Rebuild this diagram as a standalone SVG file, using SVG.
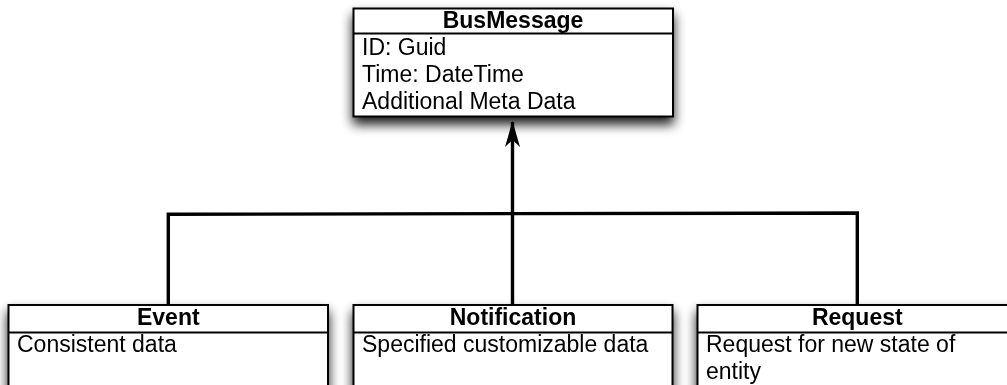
<svg xmlns="http://www.w3.org/2000/svg" width="1007" height="385" viewBox="0 0 1007 385">
  <defs>
    <!-- soft drop shadow under each class box -->
    <filter id="shadow" x="-10%" y="-25%" width="120%" height="170%">
      <feGaussianBlur in="SourceAlpha" stdDeviation="6"/>
      <feOffset dx="0" dy="7" result="blur"/>
      <feComponentTransfer>
        <feFuncA type="linear" slope="0.9"/>
      </feComponentTransfer>
      <feMerge>
        <feMergeNode/>
        <feMergeNode in="SourceGraphic"/>
      </feMerge>
    </filter>
    <!-- filled, notched generalisation arrowhead -->
    <marker id="head" markerUnits="userSpaceOnUse" viewBox="0 0 26 16" refX="25" refY="8" markerWidth="26" markerHeight="16" orient="auto">
      <path d="M26,8 L0,0.5 L7,8 L0,15.5 Z" fill="#000"/>
    </marker>
  </defs>
  <style>
    .box { fill: #fff; stroke: #000; stroke-width: 2; }
    .sep { stroke: #000; stroke-width: 2; }
    .title { font-family: "Liberation Sans", Arial, sans-serif; font-size: 23px; font-weight: bold; text-anchor: middle; fill: #000; }
    .attr { font-family: "Liberation Sans", Arial, sans-serif; font-size: 23px; fill: #000; }
    .wire { fill: none; stroke: #000; stroke-width: 3.4; stroke-linejoin: miter; }
  </style>

  <rect width="1007" height="385" fill="#fff"/>

  <!-- inheritance connectors -->
  <g id="connectors">
    <path class="wire" d="M168.3,305 L168.3,214.3 L857.3,213 L857.3,305"/>
    <path class="wire" d="M512.5,305 L512.5,122" marker-end="url(#head)"/>
  </g>

  <!-- base class -->
  <g id="busmessage" filter="url(#shadow)">
    <rect class="box" x="353.5" y="8.5" width="319.5" height="108"/>
    <line class="sep" x1="353.5" y1="33.5" x2="673" y2="33.5"/>
    <text class="title" x="513" y="28">BusMessage</text>
    <text class="attr" x="362" y="55">ID: Guid</text>
    <text class="attr" x="362" y="82">Time: DateTime</text>
    <text class="attr" x="362" y="109">Additional Meta Data</text>
  </g>

  <!-- derived classes -->
  <g id="event" filter="url(#shadow)">
    <rect class="box" x="8.5" y="305" width="319.5" height="100"/>
    <line class="sep" x1="8.5" y1="332.5" x2="328" y2="332.5"/>
    <text class="title" x="168.3" y="325">Event</text>
    <text class="attr" x="17" y="352">Consistent data</text>
  </g>

  <g id="notification" filter="url(#shadow)">
    <rect class="box" x="353.5" y="305" width="319" height="100"/>
    <line class="sep" x1="353.5" y1="332.5" x2="672.5" y2="332.5"/>
    <text class="title" x="513" y="325">Notification</text>
    <text class="attr" x="362" y="352">Specified customizable data</text>
  </g>

  <g id="request" filter="url(#shadow)">
    <rect class="box" x="697.5" y="305" width="320" height="100"/>
    <line class="sep" x1="697.5" y1="332.5" x2="1017.5" y2="332.5"/>
    <text class="title" x="857.3" y="325">Request</text>
    <text class="attr" x="706" y="352">Request for new state of</text>
    <text class="attr" x="706" y="379">entity</text>
  </g>
</svg>
